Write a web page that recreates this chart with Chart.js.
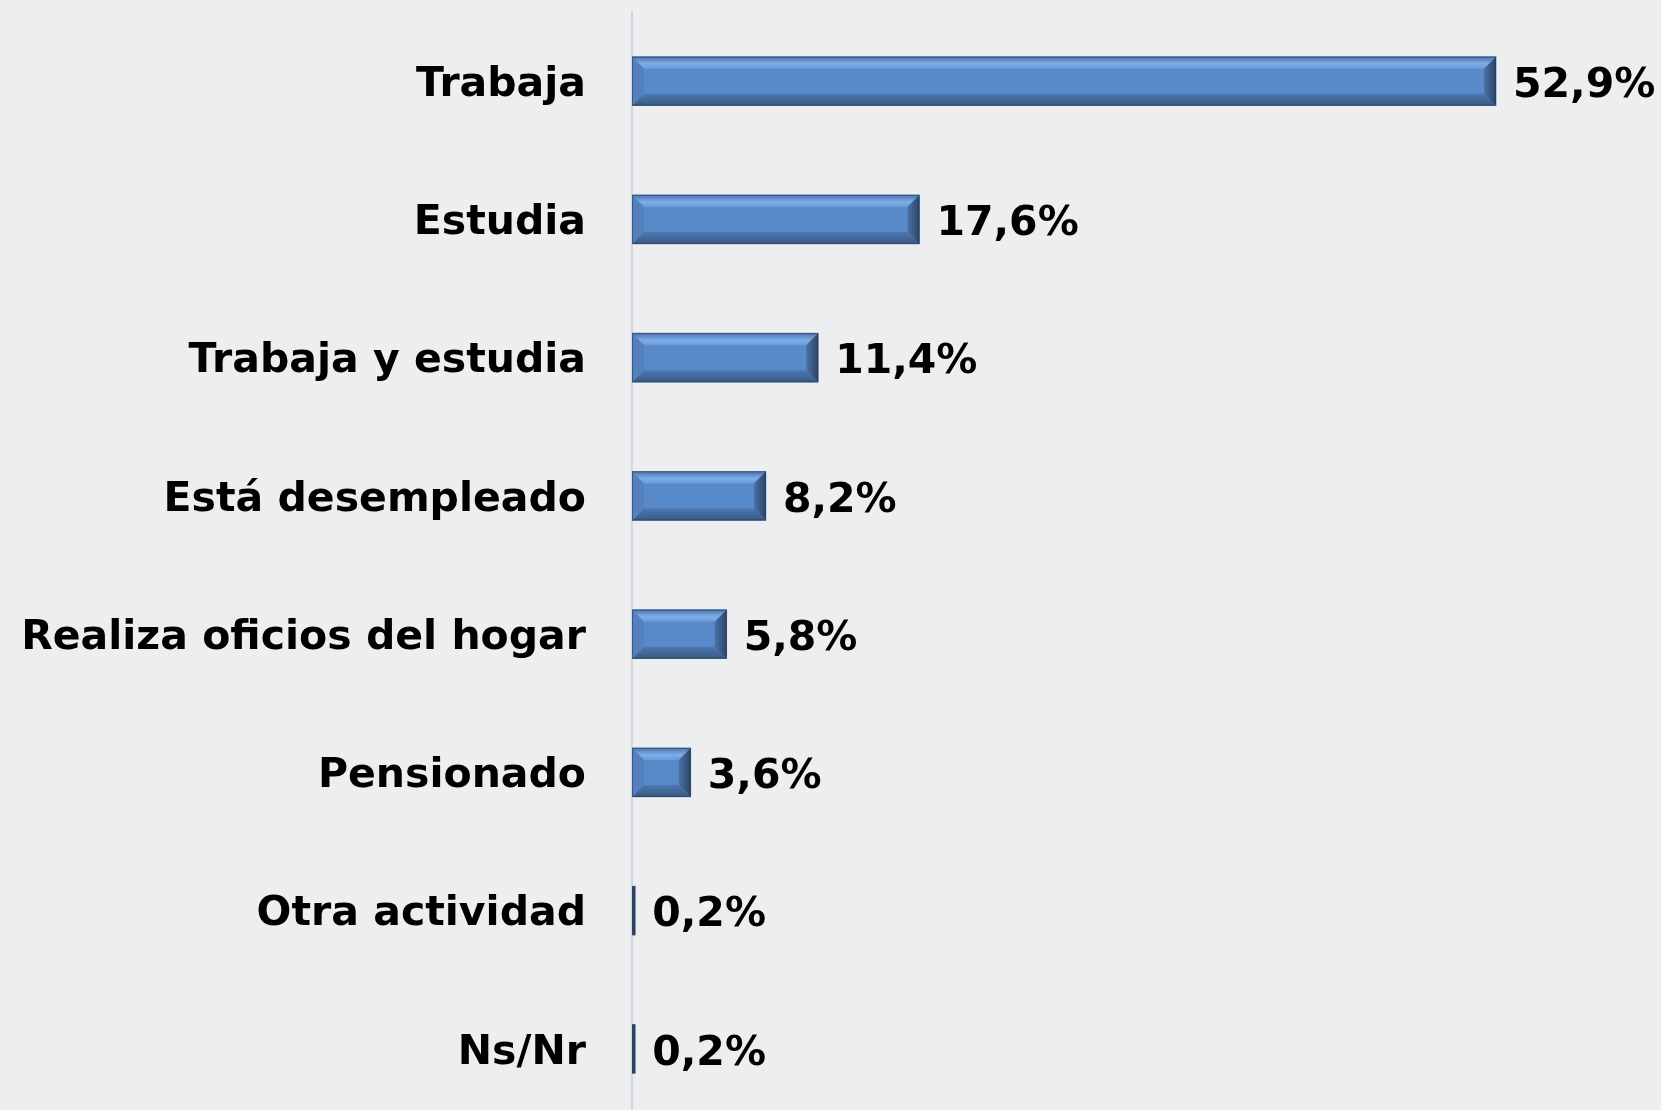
<!DOCTYPE html>
<html>
<head>
<meta charset="utf-8">
<script src="https://cdn.jsdelivr.net/npm/chart.js@4.4.0/dist/chart.umd.min.js"></script>
<style>
  html, body { margin: 0; padding: 0; background: #edeef0; overflow: hidden; }
  #wrap { width: 1661px; height: 1118px; position: relative; }
</style>
</head>
<body>
<div id="wrap"><canvas id="chartActividad"></canvas></div>
<script>
// Actividad principal
const categorias = ['Trabaja', 'Estudia', 'Trabaja y estudia', 'Está desempleado',
    'Realiza oficios del hogar', 'Pensionado', 'Otra actividad', 'Ns/Nr'];
const porcentajes = [52.9, 17.6, 11.4, 8.2, 5.8, 3.6, 0.2, 0.2];
const ejeMax = 63;

const fuente = { family: '"DejaVu Sans", sans-serif', size: 41, weight: 'bold' };

function formato(v) {
    return v.toFixed(1).replace('.', ',') + '%';
}

// barras con bisel (como en el original)
const biselPlugin = {
    id: 'bisel',
    afterDatasetsDraw(chart) {
        const ctx = chart.ctx;
        const meta = chart.getDatasetMeta(0);
        meta.data.forEach(bar => {
            const x0 = bar.base, x1 = bar.x;
            const y0 = bar.y - bar.height / 2, y1 = bar.y + bar.height / 2;
            const w = x1 - x0;
            ctx.save();
            if (w < 6) {
                ctx.fillStyle = '#2f4360';
                ctx.fillRect(x0, y0, Math.max(w, 2), y1 - y0);
                ctx.restore();
                return;
            }
            const b = Math.min(12, w / 2);
            // arriba
            let g = ctx.createLinearGradient(0, y0, 0, y0 + b);
            g.addColorStop(0, '#4a73ab');
            g.addColorStop(0.6, '#7eaee9');
            g.addColorStop(1, '#6a9ad8');
            ctx.fillStyle = g;
            ctx.beginPath();
            ctx.moveTo(x0, y0); ctx.lineTo(x1, y0); ctx.lineTo(x1 - b, y0 + b); ctx.lineTo(x0 + b, y0 + b);
            ctx.closePath(); ctx.fill();
            // abajo
            g = ctx.createLinearGradient(0, y1 - b, 0, y1);
            g.addColorStop(0, '#4d78b3');
            g.addColorStop(1, '#3a5980');
            ctx.fillStyle = g;
            ctx.beginPath();
            ctx.moveTo(x0, y1); ctx.lineTo(x1, y1); ctx.lineTo(x1 - b, y1 - b); ctx.lineTo(x0 + b, y1 - b);
            ctx.closePath(); ctx.fill();
            // izquierda
            ctx.fillStyle = '#5481bd';
            ctx.beginPath();
            ctx.moveTo(x0, y0); ctx.lineTo(x0 + b, y0 + b); ctx.lineTo(x0 + b, y1 - b); ctx.lineTo(x0, y1);
            ctx.closePath(); ctx.fill();
            // derecha
            g = ctx.createLinearGradient(x1 - b, 0, x1, 0);
            g.addColorStop(0, '#4a72a8');
            g.addColorStop(1, '#2c4466');
            ctx.fillStyle = g;
            ctx.beginPath();
            ctx.moveTo(x1, y0); ctx.lineTo(x1 - b, y0 + b); ctx.lineTo(x1 - b, y1 - b); ctx.lineTo(x1, y1);
            ctx.closePath(); ctx.fill();
            ctx.strokeStyle = 'rgba(40,60,90,0.6)';
            ctx.lineWidth = 1;
            ctx.strokeRect(x0 + 0.5, y0 + 0.5, w - 1, y1 - y0 - 1);
            ctx.restore();
        });
    }
};

// etiquetas de valor
const etiquetasPlugin = {
    id: 'etiquetas',
    afterDatasetsDraw(chart) {
        const ctx = chart.ctx;
        const meta = chart.getDatasetMeta(0);
        ctx.save();
        ctx.font = `${fuente.weight} ${fuente.size}px ${fuente.family}`;
        ctx.fillStyle = '#000';
        ctx.textBaseline = 'middle';
        ctx.textAlign = 'left';
        meta.data.forEach((bar, i) => {
            ctx.fillText(formato(porcentajes[i]), bar.x + 17, bar.y + 5);
        });
        ctx.restore();
    }
};

const ctxAct = document.getElementById('chartActividad').getContext('2d');
new Chart(ctxAct, {
    type: 'bar',
    data: {
        labels: categorias,
        datasets: [{
            data: porcentajes,
            backgroundColor: '#588ac9',
            barThickness: 49
        }]
    },
    options: {
        indexAxis: 'y',
        responsive: true,
        maintainAspectRatio: false,
        animation: false,
        layout: { padding: { top: 12, right: 0, bottom: 0, left: 0 } },
        plugins: {
            legend: { display: false },
            tooltip: { enabled: false }
        },
        scales: {
            x: {
                display: false,
                min: 0,
                max: ejeMax
            },
            y: {
                grid: { display: false, drawTicks: false },
                border: { display: true, color: '#d3d6da', width: 2 },
                ticks: {
                    color: '#000',
                    font: fuente,
                    padding: 46,
                    labelOffset: 4
                },
                afterFit(scale) {
                    scale.width = 632;
                    scale.paddingTop = 0;
                    scale.paddingBottom = 0;
                }
            }
        }
    },
    plugins: [biselPlugin, etiquetasPlugin]
});
</script>
</body>
</html>
